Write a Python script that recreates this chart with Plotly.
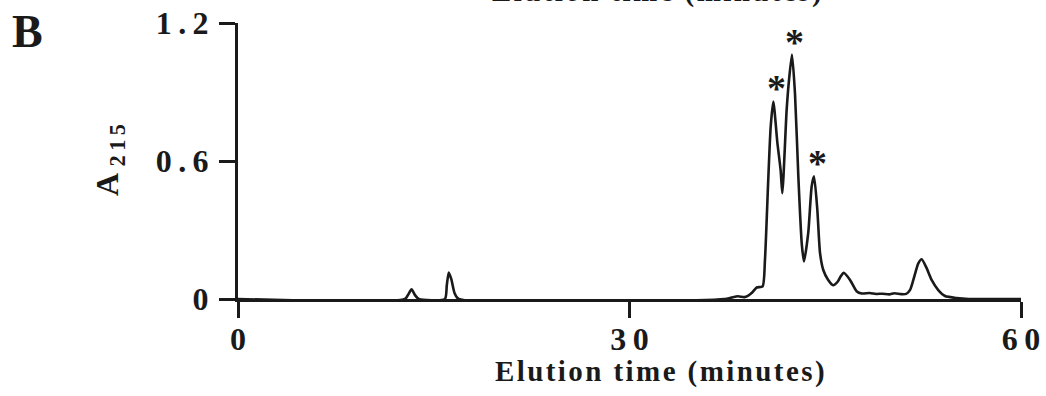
import plotly.graph_objects as go

# ---- data ----
elution_time = [0, 12.8, 13.05, 13.3, 13.55, 13.85, 15.85, 16.0, 16.15, 16.35, 16.6, 16.9,
                37.3, 37.8, 38.3, 38.8, 39.1, 39.4, 39.75, 40.2, 40.38, 40.64, 40.82, 41.02,
                41.33, 41.58, 41.71, 42.04, 42.22, 42.45, 42.68, 42.94, 43.2, 43.37, 43.7,
                43.96, 44.14, 44.39, 44.6, 44.85, 45.2, 45.6, 45.95, 46.2, 46.42, 46.9, 47.4,
                47.8, 48.4, 48.9, 49.4, 49.9, 50.3, 50.8, 51.2, 51.5, 51.75, 52.13, 52.39,
                52.77, 53.15, 53.66, 54.18, 55.07, 56.0, 60.0]
a215 = [0, 0, 0.02, 0.042, 0.018, 0, 0, 0.06, 0.115, 0.085, 0.025, 0,
        0, 0.006, 0.012, 0.008, 0.015, 0.028, 0.05, 0.055, 0.17, 0.53, 0.75, 0.859,
        0.68, 0.56, 0.46, 0.82, 0.95, 1.063, 0.895, 0.53, 0.24, 0.163, 0.29,
        0.49, 0.533, 0.39, 0.2, 0.126, 0.085, 0.06, 0.075, 0.1, 0.114, 0.083, 0.034,
        0.024, 0.026, 0.022, 0.023, 0.02, 0.025, 0.021, 0.022, 0.04, 0.083, 0.155, 0.173,
        0.134, 0.083, 0.039, 0.013, 0.004, 0, 0]
starred_peaks = [41.02, 42.45, 44.14]

x_tickvals = [0, 30, 60]
x_ticktext = ["0", "3\u20090", "6\u20090"]
y_tickvals = [0, 0.6, 1.2]
y_ticktext = ["0", "0\u2009.\u20096", "1\u2009.\u20092"]

x_title = "Elution time (minutes)"
y_title_main = "A"
y_title_sub = "215"
panel_label = "B"

# ---- layout geometry ----
W, H = 1046, 396
ML, MR, MT, MB = 238, 25, 23, 97
PW, PH = W - ML - MR, H - MT - MB


def px(xp):
    return (xp - ML) / PW


def py(yp):
    return (H - MB - yp) / PH


def spaced(s, sp="\u200a"):
    return sp.join(list(s))


FONT = "Liberation Serif"
BLACK = "#1a1a1a"

fig = go.Figure()
fig.add_trace(go.Scatter(
    x=elution_time, y=a215, mode="lines",
    line=dict(color=BLACK, width=2.6, shape="spline", smoothing=0.6),
    showlegend=False, hoverinfo="skip"))

lookup = dict(zip(elution_time, a215))
annotations = []
for t in starred_peaks:
    annotations.append(dict(x=t, y=lookup[t], xref="x", yref="y", text="*",
                            showarrow=False, xshift=3, yshift=13,
                            font=dict(family=FONT, size=38, color=BLACK, weight="bold")))

title_font = dict(family=FONT, size=29, color=BLACK, weight="bold")
annotations.append(dict(x=px(660), y=py(371), xref="paper", yref="paper",
                        text=spaced(x_title), showarrow=False, font=title_font,
                        xanchor="center", yanchor="middle"))
# clipped title of the panel above
annotations.append(dict(x=px(657), y=py(-8), xref="paper", yref="paper",
                        text=spaced(x_title), showarrow=False, font=title_font,
                        xanchor="center", yanchor="middle"))
annotations.append(dict(x=px(109), y=py(160), xref="paper", yref="paper",
                        text=y_title_main + "\u2009<sub>" + "\u2009".join(y_title_sub) + "</sub>",
                        textangle=-90, showarrow=False,
                        font=dict(family=FONT, size=32, color=BLACK, weight="bold"),
                        xanchor="center", yanchor="middle"))
annotations.append(dict(x=px(27.5), y=py(31.5), xref="paper", yref="paper",
                        text=panel_label, showarrow=False,
                        font=dict(family=FONT, size=46, color=BLACK, weight="bold"),
                        xanchor="center", yanchor="middle"))

tickfont = dict(family=FONT, size=32, color=BLACK, weight="bold")
fig.update_layout(
    width=W, height=H,
    margin=dict(l=ML, r=MR, t=MT, b=MB, pad=0, autoexpand=False),
    paper_bgcolor="white", plot_bgcolor="white",
    annotations=annotations,
    xaxis=dict(range=[0, 60], tickvals=x_tickvals, ticktext=x_ticktext,
               showgrid=False, zeroline=False, showline=True, linecolor=BLACK,
               linewidth=3, ticks="outside", ticklen=16, tickwidth=3, tickcolor=BLACK,
               tickfont=tickfont, ticklabelstandoff=-6, automargin=False),
    yaxis=dict(range=[0, 1.2], tickvals=y_tickvals, ticktext=y_ticktext,
               showgrid=False, zeroline=False, showline=True, linecolor=BLACK,
               linewidth=3, ticks="outside", ticklen=16, tickwidth=3, tickcolor=BLACK,
               tickfont=tickfont, ticklabelstandoff=4, automargin=False),
)

fig.write_html("out.html")
